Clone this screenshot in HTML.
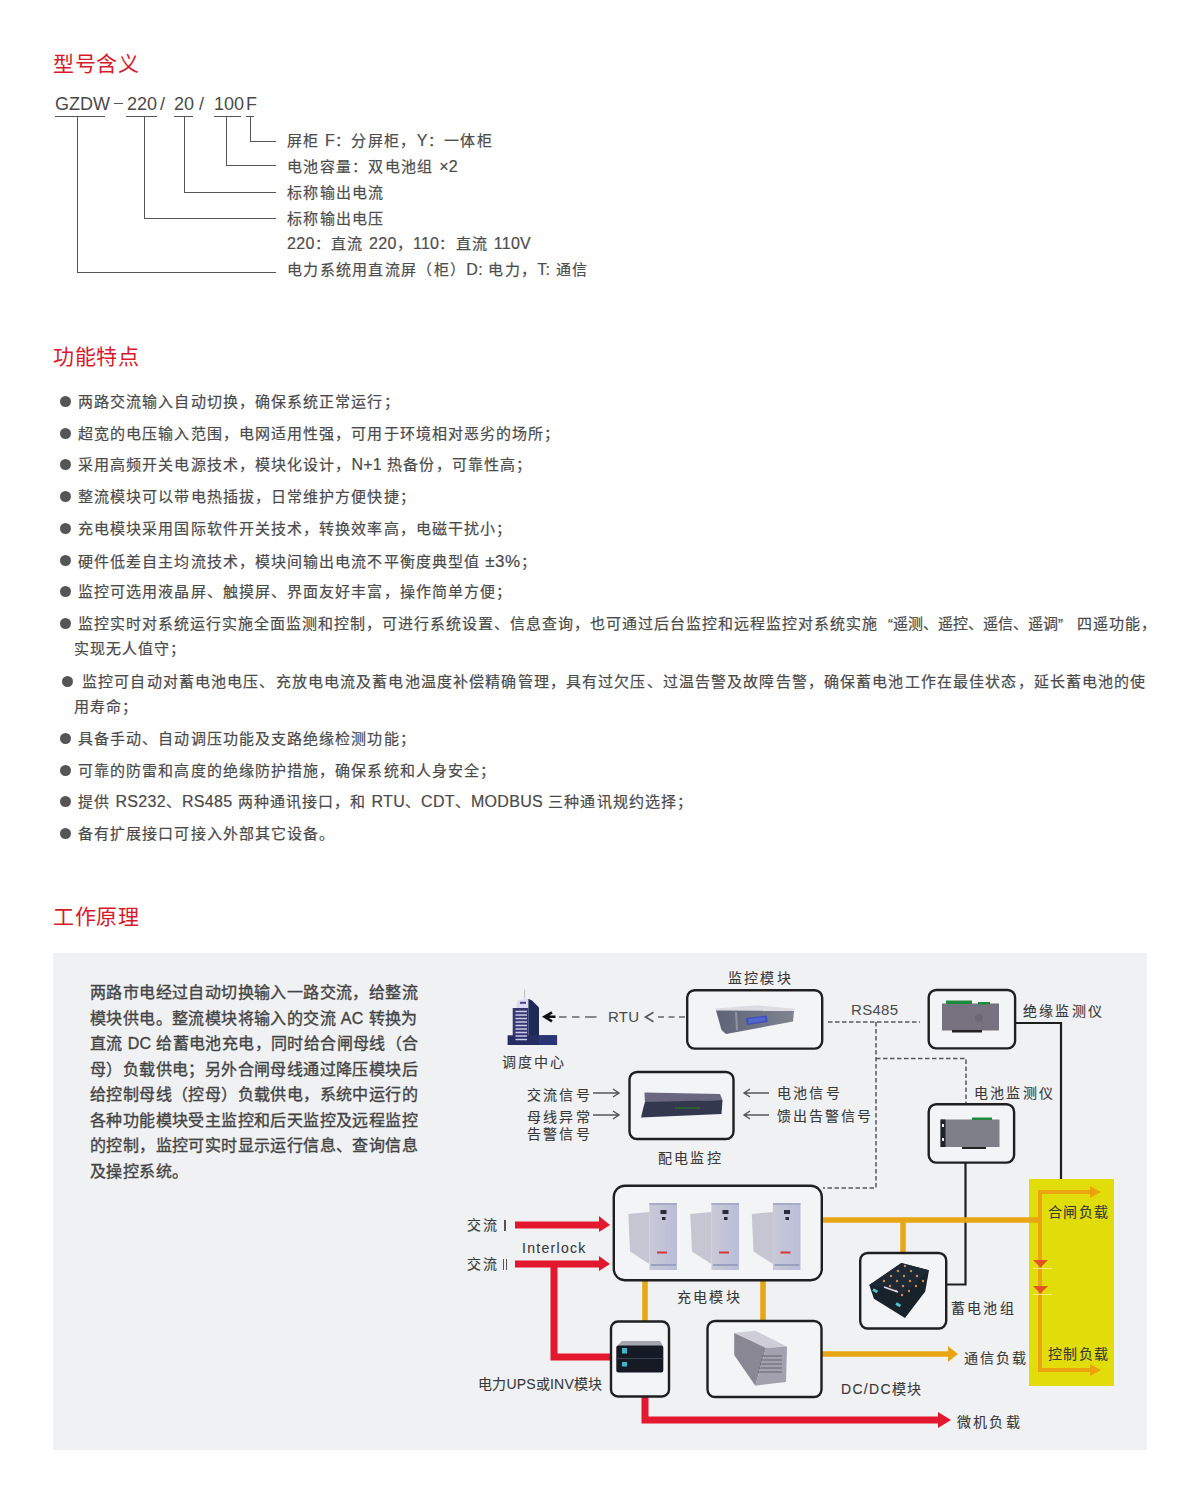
<!DOCTYPE html>
<html lang="zh-CN"><head><meta charset="utf-8">
<style>
html,body{margin:0;padding:0;background:#fff;}
body{width:1200px;height:1499px;position:relative;overflow:hidden;font-family:"Liberation Sans",sans-serif;color:#4a4a4a;}
.a{position:absolute;white-space:nowrap;line-height:1;}
.h{color:#d7192b;font-size:21px;letter-spacing:0.5px;}
.ln{position:absolute;background:#555;}
.t1{font-size:15px;letter-spacing:1.3px;color:#4d4d4d;-webkit-text-stroke-width:0.2px;}
.b{font-size:15px;letter-spacing:1.08px;color:#4a4a4a;-webkit-text-stroke-width:0.2px;}
.p{font-size:16px;letter-spacing:0.4px;color:#444;-webkit-text-stroke-width:0.35px;}
.d{font-size:14px;letter-spacing:2.2px;color:#383838;-webkit-text-stroke-width:0.1px;}
.L{font-size:16px;letter-spacing:0.3px;}
.dl{font-size:15px;letter-spacing:0.3px;color:#4a4a4a;-webkit-text-stroke-width:0;}
.dot{position:absolute;width:11px;height:11px;border-radius:50%;background:#555;}
</style></head><body>

<!-- Section 1 -->
<div class="a h" style="left:53px;top:53px;">型号含义</div>
<div class="a" style="left:55px;top:95px;font-size:18px;color:#4a4a4a;">GZDW</div>
<div class="ln" style="left:113.5px;top:102.5px;width:9px;height:1.4px;background:#555;"></div>
<div class="a" style="left:127px;top:95px;font-size:18px;color:#4a4a4a;">220</div>
<div class="a" style="left:160px;top:95px;font-size:18px;color:#4a4a4a;">/</div>
<div class="a" style="left:174px;top:95px;font-size:18px;color:#4a4a4a;">20</div>
<div class="a" style="left:199px;top:95px;font-size:18px;color:#4a4a4a;">/</div>
<div class="a" style="left:214px;top:95px;font-size:18px;color:#4a4a4a;">100</div>
<div class="a" style="left:246px;top:95px;font-size:18px;color:#4a4a4a;">F</div>

<!-- underlines -->
<div class="ln" style="left:55px;top:116px;width:50px;height:1px;"></div>
<div class="ln" style="left:126px;top:116px;width:31px;height:1px;"></div>
<div class="ln" style="left:174px;top:116px;width:19px;height:1px;"></div>
<div class="ln" style="left:214px;top:116px;width:27px;height:1px;"></div>
<div class="ln" style="left:246px;top:116px;width:8px;height:1px;"></div>
<!-- verticals -->
<div class="ln" style="left:77px;top:116px;width:1px;height:157px;"></div>
<div class="ln" style="left:144px;top:116px;width:1px;height:102px;"></div>
<div class="ln" style="left:184px;top:116px;width:1px;height:77px;"></div>
<div class="ln" style="left:226px;top:116px;width:1px;height:49px;"></div>
<div class="ln" style="left:250px;top:116px;width:1px;height:25px;"></div>
<!-- horizontals -->
<div class="ln" style="left:250px;top:141px;width:26px;height:1px;"></div>
<div class="ln" style="left:226px;top:165px;width:50px;height:1px;"></div>
<div class="ln" style="left:184px;top:192px;width:92px;height:1px;"></div>
<div class="ln" style="left:144px;top:218px;width:132px;height:1px;"></div>
<div class="ln" style="left:77px;top:272px;width:199px;height:1px;"></div>

<div class="a t1" style="left:287px;top:133px;">屏柜 <span class="L">F</span>：分屏柜，<span class="L">Y</span>：一体柜</div>
<div class="a t1" style="left:287px;top:159px;">电池容量：双电池组 <span class="L">×2</span></div>
<div class="a t1" style="left:287px;top:185px;">标称输出电流</div>
<div class="a t1" style="left:287px;top:211px;">标称输出电压</div>
<div class="a t1" style="left:287px;top:236px;"><span class="L">220</span>：直流 <span class="L">220</span>，<span class="L">110</span>：直流 <span class="L">110V</span></div>
<div class="a t1" style="left:287px;top:262px;">电力系统用直流屏（柜）<span class="L">D:</span> 电力，<span class="L">T:</span> 通信</div>

<!-- Section 2 -->
<div class="a h" style="left:53px;top:346px;">功能特点</div>
<div class="dot" style="left:60px;top:396px;"></div><div class="a b" style="left:78px;top:393.5px;">两路交流输入自动切换，确保系统正常运行；</div>
<div class="dot" style="left:60px;top:428px;"></div><div class="a b" style="left:78px;top:425.5px;">超宽的电压输入范围，电网适用性强，可用于环境相对恶劣的场所；</div>
<div class="dot" style="left:60px;top:459px;"></div><div class="a b" style="left:78px;top:456.5px;">采用高频开关电源技术，模块化设计，<span class="L">N+1</span> 热备份，可靠性高；</div>
<div class="dot" style="left:60px;top:491px;"></div><div class="a b" style="left:78px;top:488.5px;">整流模块可以带电热插拔，日常维护方便快捷；</div>
<div class="dot" style="left:60px;top:523px;"></div><div class="a b" style="left:78px;top:520.5px;">充电模块采用国际软件开关技术，转换效率高，电磁干扰小；</div>
<div class="dot" style="left:60px;top:555px;"></div><div class="a b" style="left:78px;top:552.5px;">硬件低差自主均流技术，模块间输出电流不平衡度典型值 <span style="font-size:17px;letter-spacing:0.5px">±3%</span>；</div>
<div class="dot" style="left:60px;top:586px;"></div><div class="a b" style="left:78px;top:583.5px;">监控可选用液晶屏、触摸屏、界面友好丰富，操作简单方便；</div>
<div class="dot" style="left:60px;top:618px;"></div><div class="a b" style="left:78px;top:615.5px;letter-spacing:1px;">监控实时对系统运行实施全面监测和控制，可进行系统设置、信息查询，也可通过后台监控和远程监控对系统实施<span style="display:inline-block;width:15px;text-align:right;letter-spacing:0">“</span><span style="letter-spacing:0">遥测、遥控、遥信、遥调</span><span style="display:inline-block;width:19px;text-align:left;letter-spacing:0">”</span>四遥功能，</div>
<div class="a b" style="left:74px;top:640.5px;">实现无人值守；</div>
<div class="dot" style="left:61.5px;top:675.5px;"></div><div class="a b" style="left:82px;top:673.5px;letter-spacing:1.13px;">监控可自动对蓄电池电压、充放电电流及蓄电池温度补偿精确管理，具有过欠压、过温告警及故障告警，确保蓄电池工作在最佳状态，延长蓄电池的使</div>
<div class="a b" style="left:74px;top:698.5px;">用寿命；</div>
<div class="dot" style="left:60px;top:733px;"></div><div class="a b" style="left:78px;top:730.5px;">具备手动、自动调压功能及支路绝缘检测功能；</div>
<div class="dot" style="left:60px;top:765px;"></div><div class="a b" style="left:78px;top:762.5px;">可靠的防雷和高度的绝缘防护措施，确保系统和人身安全；</div>
<div class="dot" style="left:60px;top:796px;"></div><div class="a b" style="left:78px;top:793.5px;">提供 <span class="L">RS232</span>、<span class="L">RS485</span> 两种通讯接口，和 <span class="L">RTU</span>、<span class="L">CDT</span>、<span class="L">MODBUS</span> 三种通讯规约选择；</div>
<div class="dot" style="left:60px;top:828px;"></div><div class="a b" style="left:78px;top:825.5px;">备有扩展接口可接入外部其它设备。</div>

<!-- Section 3 -->
<div class="a h" style="left:53px;top:906px;">工作原理</div>
<div style="position:absolute;left:53px;top:953px;width:1094px;height:497px;background:#eff1f3;"></div>
<div class="a p" style="left:90px;top:985px;">两路市电经过自动切换输入一路交流，给整流</div>
<div class="a p" style="left:90px;top:1011px;">模块供电。整流模块将输入的交流 <span class="L">AC</span> 转换为</div>
<div class="a p" style="left:90px;top:1036px;">直流 <span class="L">DC</span> 给蓄电池充电，同时给合闸母线（合</div>
<div class="a p" style="left:90px;top:1062px;">母）负载供电；另外合闸母线通过降压模块后</div>
<div class="a p" style="left:90px;top:1087px;">给控制母线（控母）负载供电，系统中运行的</div>
<div class="a p" style="left:90px;top:1113px;">各种功能模块受主监控和后天监控及远程监控</div>
<div class="a p" style="left:90px;top:1138px;">的控制，监控可实时显示运行信息、查询信息</div>
<div class="a p" style="left:90px;top:1164px;">及操控系统。</div>

<svg style="position:absolute;left:0;top:0;" width="1200" height="1499" viewBox="0 0 1200 1499">
<defs>
<linearGradient id="gmod" x1="0" y1="0" x2="1" y2="0"><stop offset="0" stop-color="#c9c9d6"/><stop offset="1" stop-color="#b9bdd8"/></linearGradient>
</defs>
<!-- yellow bus rect -->
<rect x="1029" y="1179" width="85" height="207" fill="#e1dd0b"/>
<!-- dashed lines -->
<g stroke="#585858" stroke-width="1.5" fill="none" stroke-dasharray="4.5 2.5">
<path d="M828 1022 H920"/>
<path d="M876 1022 V1188 H823"/>
<path d="M876 1058.5 H966 V1103"/>
</g>
<g stroke="#666" stroke-width="1.6" fill="none">
<path d="M658 1017 H664 M668.5 1017 H674.5 M679 1017 H685"/>
<path d="M559 1017 H566.5 M572 1017 H579.5 M585 1017 H596.5"/>
</g>
<!-- RTU arrows -->
<path d="M653.5 1012.3 L645.5 1017 L653.5 1021.7" stroke="#555" stroke-width="1.6" fill="none"/>
<path d="M552 1012.3 L544.5 1016.8 L552 1021.3 M546 1016.8 H555.5" stroke="#111" stroke-width="2.6" fill="none"/>
<!-- solid black lines -->
<g stroke="#1e1e1e" stroke-width="2.2" fill="none">
<path d="M1016 1023 H1061 V1179"/>
<path d="M965.5 1163 V1284.5 H947"/>
</g>
<!-- small arrows for signals -->
<g stroke="#555" stroke-width="1.4" fill="none">
<path d="M593 1093 H619 M613 1089 L619 1093 L613 1097"/>
<path d="M593 1115 H619 M613 1111 L619 1115 L613 1119"/>
<path d="M769 1093 H744 M750 1089 L744 1093 L750 1097"/>
<path d="M769 1115 H744 M750 1111 L744 1115 L750 1119"/>
</g>
<!-- orange lines -->
<g stroke="#e8a514" stroke-width="5.5" fill="none">
<path d="M822 1220 H1040"/>
<path d="M903 1220 V1252"/>
<path d="M645 1281 V1321"/>
<path d="M763 1281 V1320"/>
<path d="M822 1354 H950"/>
</g>
<path d="M948 1346 L958 1354 L948 1362 Z" fill="#e8a514"/>
<g stroke="#eba30f" stroke-width="4" fill="none">
<path d="M1092 1192 H1040 V1370 H1092"/>
</g>
<path d="M1090 1186 L1101 1192 L1090 1198 Z" fill="#eba30f"/>
<path d="M1090 1364 L1101 1370 L1090 1376 Z" fill="#eba30f"/>
<!-- diodes -->
<path d="M1033 1260 H1048 L1040.5 1267.5 Z" fill="#e65322"/>
<path d="M1033 1268.5 H1052" stroke="#f2ef80" stroke-width="1"/>
<path d="M1033 1286 H1048 L1040.5 1293.5 Z" fill="#e65322"/>
<path d="M1033 1294.5 H1052" stroke="#f2ef80" stroke-width="1"/>
<!-- red arrows -->
<g stroke="#e3172d" stroke-width="7" fill="none">
<path d="M515 1225 H601"/>
<path d="M515 1264 H601"/>
<path d="M554 1264 V1357 H610"/>
<path d="M645 1397 V1420 H940"/>
</g>
<path d="M599 1216 L610 1225 L599 1232 Z" fill="#e3172d"/>
<path d="M599 1256 L610 1264 L599 1271 Z" fill="#e3172d"/>
<path d="M938 1412 L951 1420 L938 1428 Z" fill="#e3172d"/>

<!-- boxes -->
<g stroke="#1f1f1f" stroke-width="2.4" fill="#f3f4f5">
<rect x="687.2" y="990.2" width="135" height="58.4" rx="7.5"/>
<rect x="928.7" y="990" width="86.4" height="58.4" rx="7.5"/>
<rect x="928.7" y="1104.2" width="85.4" height="58.4" rx="7.5"/>
<rect x="629.5" y="1072" width="104" height="67" rx="7.5"/>
<rect x="613.8" y="1185.8" width="208" height="94.4" rx="11"/>
<rect x="611" y="1321.5" width="58" height="75" rx="7"/>
<rect x="707.5" y="1321" width="114" height="76" rx="7.5"/>
<rect x="860.2" y="1253" width="86" height="75.5" rx="7.5"/>
</g>

<!-- monitoring module device -->
<linearGradient id="gmon" x1="0" y1="0" x2="1" y2="0"><stop offset="0" stop-color="#5e6476"/><stop offset="0.6" stop-color="#727788"/><stop offset="1" stop-color="#80848f"/></linearGradient>
<path d="M715 1008.5 L757 1005.3 L795 1008.8 L792 1011.5 L719 1012 Z" fill="#dcdce2"/>
<path d="M716 1010.5 L794 1010.8 L793 1021.5 L726 1034 L721.5 1030 Z" fill="url(#gmon)"/>
<path d="M735 1012 L737 1012 L738 1030 L736 1030.5 Z" fill="#8e93a2"/>
<path d="M746 1018 L767 1015.5 L767.5 1022 L747 1025 Z" fill="#3c4fb6"/>
<path d="M748 1019 L765 1017 L765.5 1021 L748.5 1023.5 Z" fill="#5267d0"/>
<!-- distribution monitor device -->
<path d="M644.5 1092.5 L720 1094 L722.5 1100 L645 1103 Z" fill="#6b6781"/>
<path d="M645 1102 L722.5 1100 L721.5 1114 L641 1117.5 L643.5 1107 Z" fill="#33384f"/>
<path d="M675 1108 H700" stroke="#2f5d3a" stroke-width="2"/>
<!-- insulation monitor -->
<rect x="942" y="1003.5" width="57" height="27" fill="#77727f"/>
<rect x="946" y="1000.5" width="26" height="3.5" fill="#1f8a3c"/>
<rect x="978" y="1002" width="12" height="2.5" fill="#1f8a3c"/>
<rect x="952" y="1030" width="30" height="2.5" fill="#222"/>
<circle cx="979" cy="1018" r="4" fill="#6c6876"/>
<!-- battery monitor -->
<rect x="940.5" y="1119.5" width="59" height="27.5" fill="#7f7f88"/>
<rect x="940.5" y="1119.5" width="5" height="27.5" fill="#1f2328"/>
<rect x="942" y="1124" width="2" height="3" fill="#eee"/>
<rect x="942" y="1138" width="2" height="3" fill="#eee"/>
<rect x="972" y="1117.5" width="20" height="2.5" fill="#1f8a3c"/>
<rect x="962" y="1147" width="24" height="2" fill="#222"/>
<!-- charging modules -->
<g id="cm">
<path d="M628.3 1214 L649.4 1212 L649.4 1264 L630 1251.5 Z" fill="#c6c6d2"/>
<rect x="649.4" y="1203" width="27.6" height="67" fill="url(#gmod)"/>
<rect x="649.4" y="1203" width="27.6" height="2" fill="#a9acc8"/>
<rect x="660.5" y="1210" width="6" height="4" fill="#2a2a38"/>
<rect x="662" y="1217" width="3.5" height="3" fill="#2a2a38"/>
<rect x="657" y="1251.5" width="10" height="2" fill="#d8363a"/>
<rect x="651" y="1264" width="25" height="2" fill="#9aa0c4"/>
</g>
<use href="#cm" x="62" y="0"/>
<use href="#cm" x="123.5" y="0"/>
<!-- UPS -->
<path d="M622 1341 H660 L663 1346 H617 Z" fill="#a6a6ae"/>
<rect x="616.3" y="1345.5" width="47" height="27" rx="2" fill="#151a24"/>
<rect x="616.3" y="1358" width="47" height="1" fill="#3a4250"/>
<rect x="622" y="1348" width="5" height="5.5" fill="#3fb5c9"/>
<rect x="622" y="1362" width="5" height="4.5" fill="#3fb5c9"/>
<!-- DC/DC -->
<path d="M734.2 1333 L755.3 1330.7 L787 1346.4 L766 1348 Z" fill="#cfcdd6"/>
<path d="M734.2 1333 L766 1348 L755.3 1385.7 L734.2 1355 Z" fill="#8a8795"/>
<path d="M766 1348 L787 1346.4 L786 1381.9 L755.3 1385.7 Z" fill="#a3a1ad"/>
<g stroke="#55535e" stroke-width="0.8"><path d="M762 1356 H782 M761 1360 H782 M760 1364 H782 M759 1368 H782 M758 1372 H782"/></g>
<!-- battery -->
<path d="M869.3 1285 L901.4 1263 L929 1270.3 L925.2 1291.4 L905 1318 L873.9 1298.7 Z" fill="#17222b"/>
<path d="M869.3 1285 L901.4 1263 L929 1270.3 L903 1294 Z" fill="#1d2a35"/>
<g fill="#d88a4a">
<circle cx="884" cy="1281" r="1.2"/><circle cx="891" cy="1276" r="1.2"/><circle cx="898" cy="1271" r="1.2"/><circle cx="905" cy="1266" r="1.2"/>
<circle cx="890" cy="1286" r="1.2"/><circle cx="897" cy="1281" r="1.2"/><circle cx="904" cy="1276" r="1.2"/><circle cx="911" cy="1271" r="1.2"/>
<circle cx="896" cy="1291" r="1.2"/><circle cx="903" cy="1286" r="1.2"/><circle cx="910" cy="1281" r="1.2"/><circle cx="917" cy="1276" r="1.2"/>
<circle cx="902" cy="1295" r="1.2"/><circle cx="909" cy="1291" r="1.2"/><circle cx="916" cy="1286" r="1.2"/><circle cx="923" cy="1281" r="1.2"/>
</g>
<path d="M884 1287 L898 1292" stroke="#e8d8e0" stroke-width="1.5"/>
<rect x="873" y="1289" width="5" height="3" fill="#4fc4c0" transform="rotate(30 875 1290)"/>
<rect x="896" y="1303" width="5" height="3" fill="#4fc4c0" transform="rotate(30 898 1304)"/>
<!-- building -->
<rect x="524.2" y="989.5" width="0.9" height="9" fill="#b4b4c4"/>
<path d="M516 1008 L517.5 1000.5 L528.4 998.5 L528.4 1008 Z" fill="#dcdaf0"/>
<rect x="520" y="1001.8" width="6" height="2" fill="#4b3f8e"/>
<rect x="512.7" y="1008" width="15.7" height="37" fill="#34386e"/>
<path d="M528.4 998.8 L532 1000.5 L535 1003.5 L539 1007.5 L539 1045 L528.4 1045 Z" fill="#1e2a56"/>
<rect x="507.6" y="1035.3" width="49.5" height="9.7" fill="#262d62"/>
<rect x="539" y="1035.3" width="18" height="9.7" fill="#2a3576"/>
<g stroke="#c9c9ea" stroke-width="1.3"><path d="M515.5 1011.5 H527 M515.5 1015 H527 M515.5 1018.5 H527 M515.5 1022 H527 M515.5 1025.5 H527 M515.5 1029 H527 M515.5 1032.5 H527 M515.5 1036 H527 M515.5 1039.5 H527"/></g>
</svg>


<div class="a d" style="left:728px;top:971px;">监控模块</div>
<div class="a d dl" style="left:608px;top:1009px;">RTU</div>
<div class="a d" style="left:501.5px;top:1055px;">调度中心</div>
<div class="a d" style="left:527px;top:1087.5px;">交流信号</div>
<div class="a d" style="left:527px;top:1109.5px;">母线异常</div>
<div class="a d" style="left:527px;top:1126.5px;">告警信号</div>
<div class="a d" style="left:777px;top:1085.5px;">电池信号</div>
<div class="a d" style="left:776.5px;top:1109px;">馈出告警信号</div>
<div class="a d" style="left:658px;top:1151px;">配电监控</div>
<div class="a d dl" style="left:851px;top:1002px;">RS485</div>
<div class="a d" style="left:1023px;top:1004px;">绝缘监测仪</div>
<div class="a d" style="left:974px;top:1086px;">电池监测仪</div>
<div class="a d" style="left:467px;top:1217.5px;">交流</div><div style="position:absolute;left:504.2px;top:1219.5px;width:1.4px;height:11.5px;background:#555"></div>
<div class="a d" style="left:467px;top:1256.5px;">交流</div><div style="position:absolute;left:502.6px;top:1258.5px;width:1.4px;height:11.5px;background:#555"></div><div style="position:absolute;left:505.8px;top:1258.5px;width:1.4px;height:11.5px;background:#555"></div>
<div class="a d" style="left:522px;top:1241px;letter-spacing:1.3px;">Interlock</div>
<div class="a d" style="left:677px;top:1289.5px;">充电模块</div>
<div class="a d" style="left:478px;top:1377px;letter-spacing:0.2px;">电力UPS或INV模块</div>
<div class="a d" style="left:841px;top:1382px;letter-spacing:1.3px;">DC/DC模块</div>
<div class="a d" style="left:951px;top:1301px;">蓄电池组</div>
<div class="a d" style="left:1048px;top:1204.5px;letter-spacing:1.3px;">合闸负载</div>
<div class="a d" style="left:1048px;top:1347px;letter-spacing:1.3px;">控制负载</div>
<div class="a d" style="left:963.5px;top:1351px;">通信负载</div>
<div class="a d" style="left:957px;top:1415px;">微机负载</div>
</body></html>
